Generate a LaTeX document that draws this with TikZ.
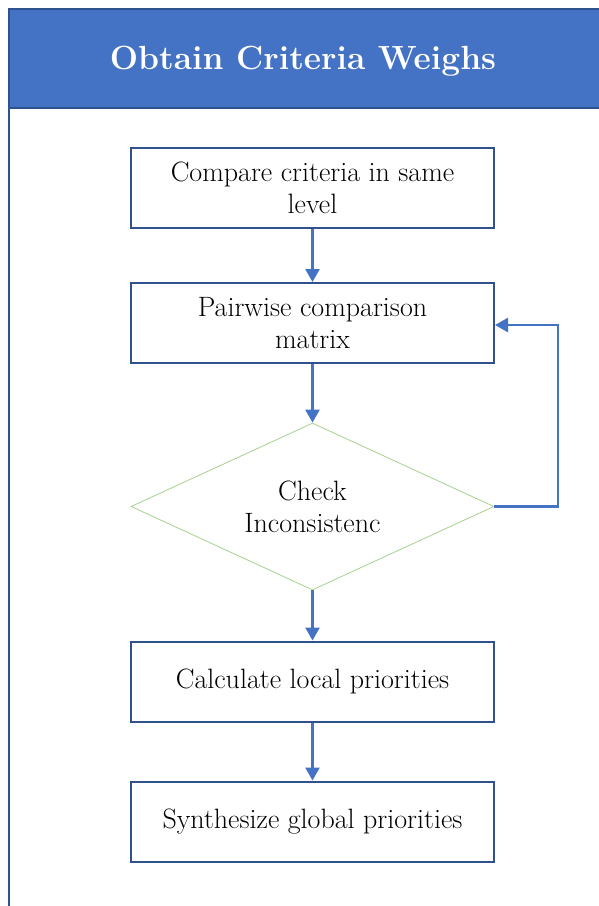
\documentclass[tikz,border=0pt]{standalone}
\usetikzlibrary{arrows.meta,shapes.geometric}
\definecolor{hdrblue}{HTML}{4472C4}
\definecolor{edgeblue}{HTML}{2F528F}
\definecolor{diagreen}{HTML}{A9D18E}
\tikzset{
  stepbox/.style={draw=edgeblue,line width=2pt,fill=white,minimum width=363pt,minimum height=80pt,
    align=center,font=\fontsize{28}{32}\selectfont},
  decision/.style={draw=diagreen,line width=0.8pt,diamond,aspect=2.18,minimum width=363pt,minimum height=167pt,
    inner sep=0pt,align=center,font=\fontsize{28}{32}\selectfont},
  flow/.style={draw=hdrblue,line width=2.5pt,-{Triangle[width=14pt,length=13pt]}}
}
\begin{document}
\begin{tikzpicture}[x=1pt,y=-1pt]
      \useasboundingbox (0,0) rectangle (598,906);
      %cornice
      \draw[edgeblue,line width=2pt,fill=white] (9,920) -- (9,9) -- (610,9) -- (610,920);
      \draw[edgeblue,line width=2pt,fill=hdrblue] (9,9) rectangle (610,108);
      \node[text=white,font=\fontsize{33.5}{36}\selectfont\bfseries] (title) at (303,61) {Obtain Criteria Weighs};
      %passi
      \node[stepbox] (cmp) at (312.5,188) {Compare criteria in same\\level};
      \node[stepbox] (pair) at (312.5,323) {Pairwise comparison\\matrix};
      \node[decision] (chk) at (312.5,506.5) {Check\\Inconsistenc};
      \node[stepbox] (local) at (312.5,681.5) {Calculate local priorities};
      \node[stepbox] (glob) at (312.5,821.5) {Synthesize global priorities};
      \coordinate (loopb) at (558,325);
      %frecce
      \draw[flow] (cmp) -- (pair);
      \draw[flow] (pair) -- (chk);
      \draw[flow] (chk) -- (local);
      \draw[flow] (local) -- (glob);
      \draw[flow] (chk.east) -- (chk.east -| loopb) -- (loopb) -- (pair.east |- loopb);
    \end{tikzpicture}
\end{document}
